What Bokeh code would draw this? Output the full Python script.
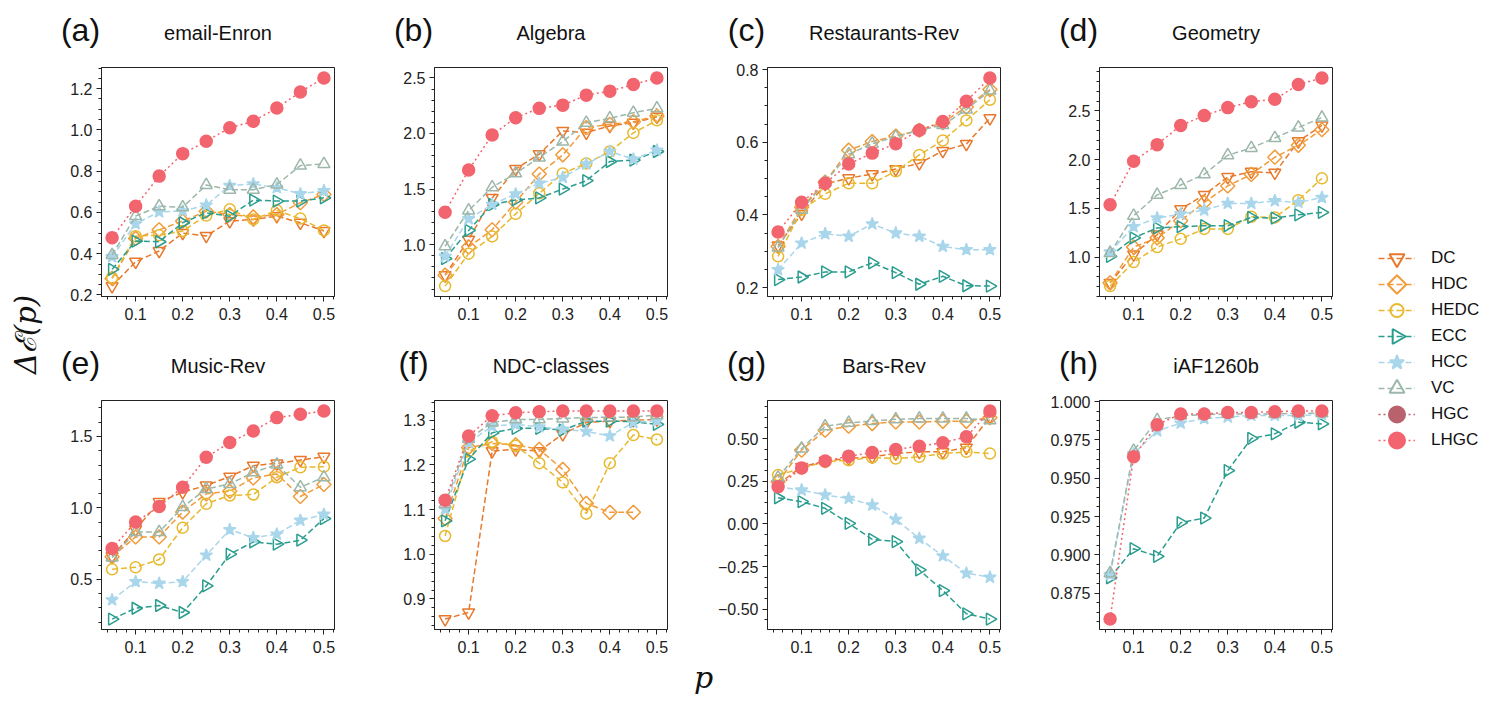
import numpy as np
from bokeh.plotting import figure
from bokeh.models import FixedTicker, Label, Legend, LegendItem, Range1d
from bokeh.layouts import row, column
from bokeh.embed import file_html
from bokeh.resources import INLINE

# ---------------- data ----------------
P = [0.05, 0.10, 0.15, 0.20, 0.25, 0.30, 0.35, 0.40, 0.45, 0.50]
SERIES = ["DC", "HDC", "HEDC", "ECC", "HCC", "VC", "HGC", "LHGC"]

email_enron = {
    "DC":   [0.243, 0.361, 0.413, 0.500, 0.486, 0.558, 0.566, 0.582, 0.550, 0.510],
    "HDC":  [0.280, 0.474, 0.516, 0.558, 0.606, 0.590, 0.578, 0.590, 0.647, 0.687],
    "HEDC": [0.284, 0.485, 0.490, 0.510, 0.585, 0.615, 0.566, 0.610, 0.570, 0.513],
    "ECC":  [0.324, 0.461, 0.458, 0.550, 0.598, 0.582, 0.660, 0.655, 0.655, 0.671],
    "HCC":  [0.385, 0.545, 0.603, 0.607, 0.635, 0.730, 0.738, 0.720, 0.690, 0.705],
    "VC":   [0.394, 0.582, 0.630, 0.625, 0.733, 0.710, 0.710, 0.735, 0.827, 0.835],
    "LHGC": [0.477, 0.630, 0.776, 0.885, 0.945, 1.010, 1.042, 1.106, 1.184, 1.252],
}
algebra = {
    "DC":   [0.725, 1.045, 1.420, 1.680, 1.814, 2.023, 2.008, 2.068, 2.097, 2.150],
    "HDC":  [0.725, 0.979, 1.134, 1.382, 1.635, 1.808, 2.053, 2.082, 2.106, 2.157],
    "HEDC": [0.627, 0.919, 1.074, 1.277, 1.462, 1.641, 1.731, 1.838, 2.005, 2.118],
    "ECC":  [0.875, 1.128, 1.361, 1.402, 1.420, 1.500, 1.575, 1.748, 1.760, 1.838],
    "HCC":  [0.895, 1.232, 1.361, 1.456, 1.552, 1.605, 1.725, 1.838, 1.769, 1.850],
    "VC":   [0.985, 1.307, 1.516, 1.641, 1.784, 1.927, 2.097, 2.136, 2.187, 2.226],
    "LHGC": [1.292, 1.671, 1.987, 2.142, 2.226, 2.255, 2.345, 2.381, 2.440, 2.500],
}
restaurants_rev = {
    "DC":   [0.316, 0.403, 0.485, 0.501, 0.512, 0.526, 0.542, 0.576, 0.595, 0.666],
    "HDC":  [0.313, 0.421, 0.490, 0.578, 0.602, 0.617, 0.633, 0.654, 0.697, 0.745],
    "HEDC": [0.286, 0.414, 0.458, 0.487, 0.487, 0.520, 0.565, 0.605, 0.660, 0.717],
    "ECC":  [0.222, 0.229, 0.243, 0.243, 0.268, 0.241, 0.209, 0.231, 0.205, 0.204],
    "HCC":  [0.249, 0.322, 0.348, 0.341, 0.375, 0.350, 0.341, 0.313, 0.304, 0.304],
    "VC":   [0.310, 0.414, 0.490, 0.567, 0.596, 0.615, 0.633, 0.647, 0.690, 0.742],
    "LHGC": [0.353, 0.435, 0.487, 0.540, 0.570, 0.596, 0.633, 0.657, 0.713, 0.777],
}
geometry = {
    "DC":   [0.735, 1.027, 1.231, 1.492, 1.638, 1.821, 1.876, 1.865, 2.188, 2.351],
    "HDC":  [0.735, 1.102, 1.197, 1.373, 1.560, 1.730, 1.849, 2.025, 2.147, 2.307],
    "HEDC": [0.702, 0.949, 1.102, 1.187, 1.289, 1.289, 1.414, 1.407, 1.584, 1.808],
    "ECC":  [1.007, 1.197, 1.299, 1.312, 1.322, 1.322, 1.407, 1.400, 1.434, 1.458],
    "HCC":  [1.051, 1.312, 1.400, 1.441, 1.482, 1.550, 1.550, 1.577, 1.560, 1.611],
    "VC":   [1.041, 1.424, 1.638, 1.740, 1.849, 2.045, 2.120, 2.222, 2.330, 2.432],
    "LHGC": [1.536, 1.984, 2.154, 2.351, 2.452, 2.534, 2.595, 2.619, 2.771, 2.839],
}
music_rev = {
    "DC":   [0.662, 0.850, 1.041, 1.110, 1.157, 1.219, 1.296, 1.312, 1.335, 1.358],
    "HDC":  [0.658, 0.797, 0.797, 0.971, 1.099, 1.117, 1.210, 1.238, 1.080, 1.164],
    "HEDC": [0.570, 0.584, 0.639, 0.862, 1.029, 1.087, 1.094, 1.215, 1.284, 1.289],
    "ECC":  [0.222, 0.298, 0.317, 0.268, 0.454, 0.676, 0.762, 0.746, 0.774, 0.925],
    "HCC":  [0.356, 0.484, 0.472, 0.484, 0.669, 0.848, 0.792, 0.816, 0.913, 0.955],
    "VC":   [0.653, 0.832, 0.832, 1.006, 1.133, 1.168, 1.249, 1.303, 1.145, 1.215],
    "LHGC": [0.716, 0.901, 1.010, 1.145, 1.354, 1.458, 1.539, 1.632, 1.655, 1.679],
}
ndc_classes = {
    "DC":   [0.855, 0.870, 1.231, 1.235, 1.231, 1.269, 1.295, 1.298, 1.300, 1.302],
    "HDC":  [1.080, 1.239, 1.248, 1.245, 1.235, 1.190, 1.114, 1.094, 1.094, None],
    "HEDC": [1.041, 1.231, 1.252, 1.243, 1.204, 1.161, 1.091, 1.204, 1.267, 1.257],
    "ECC":  [1.075, 1.213, 1.272, 1.282, 1.282, 1.278, 1.298, 1.298, 1.297, 1.291],
    "HCC":  [1.101, 1.250, 1.287, 1.291, 1.285, 1.280, 1.275, 1.265, 1.295, 1.299],
    "VC":   [1.112, 1.258, 1.295, 1.302, 1.302, 1.304, 1.306, 1.307, 1.307, 1.312],
    "LHGC": [1.121, 1.265, 1.310, 1.317, 1.319, 1.321, 1.321, 1.321, 1.321, 1.321],
}
bars_rev = {
    "DC":   [0.233, 0.334, 0.369, 0.383, 0.393, 0.412, 0.422, 0.422, 0.447, 0.627],
    "HDC":  [0.247, 0.432, 0.549, 0.572, 0.588, 0.597, 0.597, 0.601, 0.601, 0.623],
    "HEDC": [0.286, 0.325, 0.364, 0.373, 0.389, 0.383, 0.393, 0.412, 0.422, 0.412],
    "ECC":  [0.153, 0.130, 0.091, 0.003, -0.091, -0.104, -0.270, -0.391, -0.527, -0.558],
    "HCC":  [0.217, 0.198, 0.169, 0.149, 0.110, 0.026, -0.085, -0.188, -0.289, -0.313],
    "VC":   [0.272, 0.442, 0.572, 0.592, 0.603, 0.613, 0.617, 0.617, 0.617, 0.607],
    "LHGC": [0.217, 0.328, 0.369, 0.397, 0.418, 0.436, 0.455, 0.475, 0.510, 0.662],
}
iaf1260b = {
    "ECC":  [0.885, 0.904, 0.899, 0.921, 0.924, 0.955, 0.976, 0.979, 0.9866, 0.9855],
    "HCC":  [0.887, 0.966, 0.981, 0.986, 0.989, 0.990, 0.991, 0.991, 0.991, 0.9915],
    "VC":   [0.888, 0.968, 0.988, 0.991, 0.9915, 0.992, 0.992, 0.992, 0.9925, 0.9925],
    "LHGC": [0.858, 0.964, 0.985, 0.992, 0.992, 0.993, 0.993, 0.9935, 0.994, 0.994],
}

X_TICKS = [0.1, 0.2, 0.3, 0.4, 0.5]
X_LABELS = ["0.1", "0.2", "0.3", "0.4", "0.5"]

YT_A = [0.2, 0.4, 0.6, 0.8, 1.0, 1.2]
YL_A = ["0.2", "0.4", "0.6", "0.8", "1.0", "1.2"]
YT_B = [1.0, 1.5, 2.0, 2.5]
YL_B = ["1.0", "1.5", "2.0", "2.5"]
YT_C = [0.2, 0.4, 0.6, 0.8]
YL_C = ["0.2", "0.4", "0.6", "0.8"]
YT_D = [1.0, 1.5, 2.0, 2.5]
YL_D = ["1.0", "1.5", "2.0", "2.5"]
YT_E = [0.5, 1.0, 1.5]
YL_E = ["0.5", "1.0", "1.5"]
YT_F = [0.9, 1.0, 1.1, 1.2, 1.3]
YL_F = ["0.9", "1.0", "1.1", "1.2", "1.3"]
YT_G = [-0.5, -0.25, 0.0, 0.25, 0.5]
YL_G = ["\u22120.50", "\u22120.25", "0.00", "0.25", "0.50"]
YT_H = [0.875, 0.9, 0.925, 0.95, 0.975, 1.0]
YL_H = ["0.875", "0.900", "0.925", "0.950", "0.975", "1.000"]

PANELS = [
    ("(a)", "email-Enron", email_enron, YT_A, YL_A, 0.05),
    ("(b)", "Algebra", algebra, YT_B, YL_B, 0.1),
    ("(c)", "Restaurants-Rev", restaurants_rev, YT_C, YL_C, 0.05),
    ("(d)", "Geometry", geometry, YT_D, YL_D, 0.1),
    ("(e)", "Music-Rev", music_rev, YT_E, YL_E, 0.1),
    ("(f)", "NDC-classes", ndc_classes, YT_F, YL_F, 0.02),
    ("(g)", "Bars-Rev", bars_rev, YT_G, YL_G, 0.0625),
    ("(h)", "iAF1260b", iaf1260b, YT_H, YL_H, 0.00625),
]

X_LABEL = "p"
Y_LABEL = "\u0394\u2130(p)"

# ---------------- styles ----------------
STYLE = {
    "DC":   dict(color="#e8792c", marker="inverted_triangle", fill=False, dash="6 3", size=12, angle=0.0, leg=15),
    "HDC":  dict(color="#f19b3a", marker="square", fill=False, dash="6 3", size=10, angle=np.pi / 4, leg=13),
    "HEDC": dict(color="#e8b92e", marker="circle", fill=False, dash="6 3", size=11, angle=0.0, leg=13),
    "ECC":  dict(color="#2a9d8f", marker="triangle", fill=False, dash="6 3", size=12, angle=-np.pi / 2, leg=15),
    "HCC":  dict(color="#a9d6eb", marker="star", fill=True, dash="6 3", size=13, angle=0.0, leg=15),
    "VC":   dict(color="#9db7aa", marker="triangle", fill=False, dash="6 3", size=12, angle=0.0, leg=15),
    "HGC":  dict(color="#b9626d", marker="circle", fill=True, dash="2 3", size=12, angle=0.0, leg=16),
    "LHGC": dict(color="#f2646e", marker="circle", fill=True, dash="2 3", size=12, angle=0.0, leg=16),
}

FONT = "Liberation Sans"
INK = "#222222"
TXT = "#111111"

FRAME_W = 233
FRAME_H = 229
LEFT_B = [45, 75, 75, 74]
RIGHT_B = 25
TOP_B = [17, 9]
BOTTOM_B = [45, 30]
BAND_H = [50, 50]
BOTTOM_BAND_H = 35
YLAB_W = 56
LEG_W = 125
COL_W = [LEFT_B[c] + FRAME_W + RIGHT_B for c in range(4)]
GRID_W = sum(COL_W)
FRAME_LEFT = [sum(COL_W[:c]) + LEFT_B[c] for c in range(4)]
TOTAL_H = sum(BAND_H) + sum(TOP_B) + 2 * FRAME_H + sum(BOTTOM_B) + BOTTOM_BAND_H

LEG_X = 21          # left of legend glyphs inside legend figure
LEG_TOP = 245       # top of first legend row (from top of page)
LEG_ROW = 26        # row pitch
LEG_GLYPH_W = 37


def style_axis(ax, standoff):
    ax.major_tick_out = 5
    ax.major_tick_in = 0
    ax.minor_tick_out = 3
    ax.minor_tick_in = 0
    ax.axis_line_color = INK
    ax.major_tick_line_color = INK
    ax.minor_tick_line_color = INK
    ax.major_label_text_font = FONT
    ax.major_label_text_font_size = "16px"
    ax.major_label_text_color = INK
    ax.major_label_standoff = standoff


def blank(width, height):
    f = figure(width=width, height=height, x_range=Range1d(0, width), y_range=Range1d(0, height),
               x_axis_type=None, y_axis_type=None, output_backend="svg",
               toolbar_location=None, min_border=0)
    f.outline_line_color = None
    f.xgrid.visible = False
    f.ygrid.visible = False
    return f


def make_panel(idx):
    letter, name, data, yt, yl, ystep = PANELS[idx]
    r, c = divmod(idx, 4)
    vals = [v for s in data.values() for v in s if v is not None]
    ymin, ymax = min(vals), max(vals)
    ypad = 0.05 * (ymax - ymin)
    xmin, xmax = min(P), max(P)
    xpad = 0.05 * (xmax - xmin)
    y0, y1 = ymin - ypad, ymax + ypad
    x0, x1 = xmin - xpad, xmax + xpad

    fig = figure(
        width=COL_W[c],
        height=TOP_B[r] + FRAME_H + BOTTOM_B[r],
        x_range=Range1d(x0, x1), y_range=Range1d(y0, y1),
        output_backend="svg", toolbar_location=None,
        min_border_left=LEFT_B[c], min_border_right=RIGHT_B,
        min_border_top=TOP_B[r], min_border_bottom=BOTTOM_B[r],
    )
    fig.xgrid.visible = False
    fig.ygrid.visible = False
    fig.outline_line_color = INK
    fig.outline_line_width = 1

    xminor = [float(v) for v in np.round(np.arange(np.ceil(x0 / 0.02) * 0.02, x1, 0.02), 6)]
    yminor = [float(v) for v in np.round(np.arange(np.ceil(y0 / ystep) * ystep, y1, ystep), 6)]
    fig.xaxis[0].ticker = FixedTicker(ticks=X_TICKS, minor_ticks=xminor)
    fig.yaxis[0].ticker = FixedTicker(ticks=yt, minor_ticks=yminor)
    fig.xaxis[0].major_label_overrides = dict(zip(X_TICKS, X_LABELS))
    fig.yaxis[0].major_label_overrides = dict(zip(yt, yl))
    style_axis(fig.xaxis[0], 6)
    style_axis(fig.yaxis[0], 4)

    for s in SERIES:
        if s not in data:
            continue
        st = STYLE[s]
        y = np.array([np.nan if v is None else v for v in data[s]], dtype=float)
        fig.line(P, y, line_color=st["color"], line_width=1.5, line_dash=st["dash"])
        fig.scatter(P, y, marker=st["marker"], size=st["size"], angle=st["angle"],
                    line_color=st["color"], line_width=1.5,
                    fill_color=st["color"], fill_alpha=1.0 if st["fill"] else 0.0)
    return fig


def make_band(r):
    band = blank(GRID_W, BAND_H[r])
    for c in range(4):
        letter, name = PANELS[4 * r + c][0], PANELS[4 * r + c][1]
        band.add_layout(Label(x=FRAME_LEFT[c] - 21, y=BAND_H[r] - 29 if r == 0 else BAND_H[r] - 21,
                              x_units="screen", y_units="screen", text=letter,
                              text_align="center", text_baseline="middle",
                              text_font=FONT, text_font_size="32px", text_color=TXT))
        band.add_layout(Label(x=FRAME_LEFT[c] + FRAME_W / 2, y=BAND_H[r] - 32 if r == 0 else BAND_H[r] - 24,
                              x_units="screen", y_units="screen", text=name,
                              text_align="center", text_baseline="middle",
                              text_font=FONT, text_font_size="20px", text_color=TXT))
    return band


panels = [make_panel(i) for i in range(8)]

bottom_band = blank(GRID_W, BOTTOM_BAND_H)
bottom_band.add_layout(Label(x=703 - YLAB_W, y=BOTTOM_BAND_H - 18, x_units="screen", y_units="screen",
                             text=X_LABEL, text_align="center", text_baseline="alphabetic",
                             text_font="DejaVu Serif", text_font_style="italic",
                             text_font_size="30px", text_color=TXT))

ylab = blank(YLAB_W, TOTAL_H)
ylab.add_layout(Label(x=25, y=TOTAL_H - 334, x_units="screen", y_units="screen",
                      text=Y_LABEL, angle=np.pi / 2, text_align="center",
                      text_baseline="middle", text_font="DejaVu Serif",
                      text_font_style="italic", text_font_size="29px", text_color=TXT))

# legend figure: real Legend for line keys + labels, marker keys overlaid (so rotation shows)
legfig = blank(LEG_W, TOTAL_H)
items = []
for k, s in enumerate(SERIES):
    st = STYLE[s]
    lr = legfig.line([np.nan], [np.nan], line_color=st["color"], line_width=1.5, line_dash=st["dash"])
    items.append(LegendItem(label=s, renderers=[lr]))
    cy = TOTAL_H - (LEG_TOP + LEG_ROW / 2 + k * LEG_ROW)
    legfig.scatter([LEG_X + LEG_GLYPH_W / 2], [cy], marker=st["marker"], size=st["leg"],
                   angle=st["angle"], line_color=st["color"], line_width=2,
                   fill_color=st["color"], fill_alpha=1.0 if st["fill"] else 0.0, level="overlay")
n = len(SERIES)
leg_h = n * 20 + (n - 1) * (LEG_ROW - 20)
legend = Legend(items=items, location=(LEG_X, TOTAL_H - (LEG_TOP + 3 + leg_h)),
                glyph_width=LEG_GLYPH_W, glyph_height=20,
                label_height=20, spacing=LEG_ROW - 20, padding=0, margin=0, label_standoff=16,
                label_text_font=FONT, label_text_font_size="17px", label_text_color=TXT,
                border_line_color=None, background_fill_alpha=0.0)
legfig.add_layout(legend)

grid = column(make_band(0), row(*panels[:4]), make_band(1), row(*panels[4:]), bottom_band)
layout = row(ylab, grid, legfig)

open("out.html", "w").write(file_html(layout, INLINE))
